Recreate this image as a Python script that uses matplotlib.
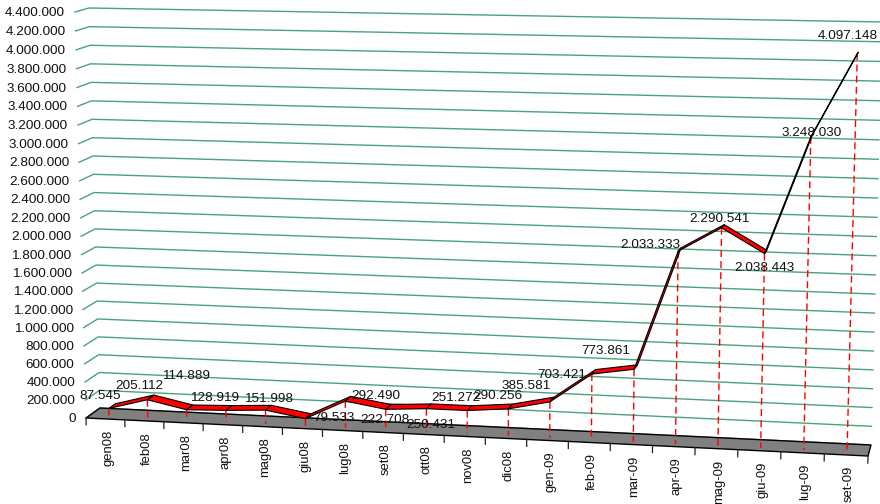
import numpy as np
import matplotlib
matplotlib.use('Agg')
import matplotlib.pyplot as plt

mesi = ['gen08', 'feb08', 'mar08', 'apr08', 'mag08', 'giu08', 'lug08', 'set08', 'ott08', 'nov08',
        'dic08', 'gen-09', 'feb-09', 'mar-09', 'apr-09', 'mag-09', 'giu-09', 'lug-09', 'set-09']
valori = [87545, 205112, 114889, 128919, 151998, 79533, 292490, 222708, 250431, 251272,
          290256, 385581, 703421, 773861, 2033333, 2290541, 2038443, 3248030, 4097148]
scala = list(range(0, 4400001, 200000))

# spostamento delle etichette rispetto al punto (pixel, y verso l'alto)
spost_etichette = [(-9, 12), (-8, 14), (-1, 34), (-11, 12), (3, 11), (29, 1), (31, 5), (-1, -11), (4, -16), (-11, 13),
                   (-11, 13), (-24, 16), (-30, -1), (-28, 18), (-28, 6), (-2, 9), (0, -14), (1, 4), (-9, 17)]

VAL_MAX = 4400000
# angoli dei piani davanti e dietro: basso sx, basso dx, alto dx, alto sx
DAVANTI = np.array([(86, 418), (868, 456), (880, 24), (75, 12)], dtype=float)
DIETRO = np.array([(100, 408), (871, 445), (882, 22), (89, 8)], dtype=float)
# profondita del nastro della serie
D_NASTRO = (0.26, 0.74)


def omografia(angoli):
    # matrice che porta il quadrato unitario sul quadrilatero
    (x0, y0), (x1, y1), (x2, y2), (x3, y3) = angoli
    a = np.array([[x1 - x2, x3 - x2], [y1 - y2, y3 - y2]])
    b = np.array([x0 - x1 + x2 - x3, y0 - y1 + y2 - y3])
    g, h = np.linalg.solve(a, b)
    return np.array([[x1 - x0 + g * x1, x3 - x0 + h * x3, x0],
                     [y1 - y0 + g * y1, y3 - y0 + h * y3, y0],
                     [g, h, 1.0]])


def proietta(pos, val, prof=0.0):
    # pos = posizione sull'asse categorie, val = valore, prof = 0 davanti, 1 dietro
    m = omografia(DAVANTI + (DIETRO - DAVANTI) * prof)
    u = np.asarray(pos, dtype=float) / len(mesi)
    v = np.asarray(val, dtype=float) / VAL_MAX
    w = m[2, 0] * u + m[2, 1] * v + m[2, 2]
    return (m[0, 0] * u + m[0, 1] * v + m[0, 2]) / w, (m[1, 0] * u + m[1, 1] * v + m[1, 2]) / w


plt.rcParams['font.family'] = ['Liberation Sans', 'DejaVu Sans']
fig = plt.figure(figsize=(8.8, 5.04), dpi=100)
ax = fig.add_axes([0, 0, 1, 1])
ax.set_xlim(0, 880)
ax.set_ylim(504, 0)
ax.axis('off')

FONT = 9.7
VERDE = '#4aa37a'

# griglia: parete sinistra e parete di fondo
for v in scala:
    xa, ya = proietta([0, 0], [v, v], 0)
    xb, yb = proietta([0, len(mesi)], [v, v], 1)
    ax.plot([xa[0], xb[0], xb[1]], [ya[0], yb[0], yb[1]], color=VERDE, lw=1.0, zorder=1)
    ax.annotate(f'{v:,}'.replace(',', '.'), (xa[0], ya[0]), xytext=(-10, -1), textcoords='offset pixels',
                ha='right', va='center', fontsize=FONT, color='#111111', zorder=6)

# pavimento grigio
xf, yf = proietta([0, len(mesi)], [0, 0], 0)
xr, yr = proietta([len(mesi), 0], [0, 0], 1)
ax.fill([xf[0], xf[1], xr[0], xr[1]], [yf[0], yf[1], yr[0], yr[1]], facecolor='#808080',
        edgecolor='black', lw=1, zorder=2)

# tacche e nomi dei mesi
for k in range(len(mesi) + 1):
    xt, yt = proietta([k, k], [0, -75000], 0)
    ax.plot(xt, yt, color='#222222', lw=0.9, zorder=2)
for k, nome in enumerate(mesi):
    xm, ym = proietta(k + 0.5, 0, 0)
    ax.annotate(nome, (xm, ym), xytext=(3, -11), textcoords='offset pixels', rotation=90,
                ha='center', va='top', fontsize=9.4, color='#111111', zorder=6)

pos = np.arange(len(mesi)) + 0.5

# linee di proiezione rosse
for p, v in zip(pos, valori):
    xd, yd = proietta([p, p], [v, 0], D_NASTRO[0])
    ax.plot(xd, yd, color='#ff0000', lw=1.0, ls=(0, (5, 3)), zorder=3)

# nastro della serie
xa, ya = proietta(pos, valori, D_NASTRO[0])
xb, yb = proietta(pos, valori, D_NASTRO[1])
for i in range(len(mesi) - 1):
    ax.fill([xa[i], xa[i + 1], xb[i + 1], xb[i]], [ya[i], ya[i + 1], yb[i + 1], yb[i]],
            facecolor='#ff0000', edgecolor='black', lw=0.8, joinstyle='round', zorder=4)

# etichette dei valori
for i, v in enumerate(valori):
    ax.annotate(f'{v:,}'.replace(',', '.'), (xa[i], ya[i]), xytext=spost_etichette[i], textcoords='offset pixels',
                ha='center', va='center', fontsize=FONT, color='#111111', zorder=7)

fig.savefig('out.png', dpi=100)
